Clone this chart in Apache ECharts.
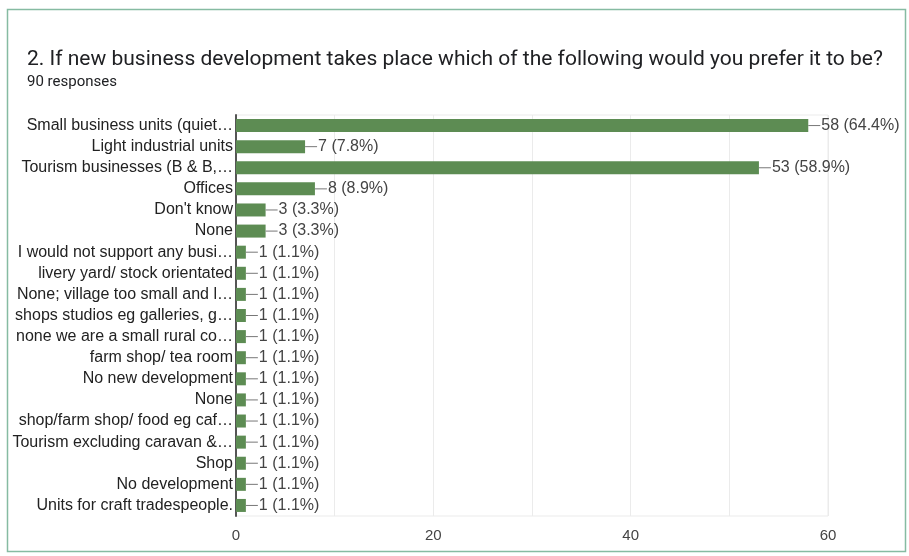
<!DOCTYPE html>
<html>
<head>
<meta charset="utf-8">
<script src="https://cdn.jsdelivr.net/npm/echarts@6/dist/echarts.min.js"></script>
<style>
  html, body { margin: 0; padding: 0; background: #fff; }
  #main { width: 909px; height: 556px; }
</style>
</head>
<body>
<div id="main"></div>
<script>
// answer labels, top to bottom
var categories = [
  "Small business units (quiet…",
  "Light industrial units",
  "Tourism businesses (B & B,…",
  "Offices",
  "Don't know",
  "None",
  "I would not support any busi…",
  "livery yard/ stock orientated",
  "None; village too small and l…",
  "shops studios eg galleries, g…",
  "none we are a small rural co…",
  "farm shop/ tea room",
  "No new development",
  "None",
  "shop/farm shop/ food eg caf…",
  "Tourism excluding caravan &…",
  "Shop",
  "No development",
  "Units for craft tradespeople."
];
var counts = [58, 7, 53, 8, 3, 3, 1, 1, 1, 1, 1, 1, 1, 1, 1, 1, 1, 1, 1];
var percents = ["64.4", "7.8", "58.9", "8.9", "3.3", "3.3", "1.1", "1.1", "1.1", "1.1",
  "1.1", "1.1", "1.1", "1.1", "1.1", "1.1", "1.1", "1.1", "1.1"];
var xTicks = [0, 20, 40, 60];

var myChart = echarts.init(document.getElementById("main"));

var option = {
  backgroundColor: "#fff",
  animation: false,
  title: {
    text: "2. If new business development takes place which of the following would you prefer it to be?",
    subtext: "90 responses",
    left: 22,
    top: 44,
    itemGap: 5,
    textStyle: { fontFamily: "Roboto", fontSize: 21, fontWeight: "normal", color: "#202124" },
    subtextStyle: { fontFamily: "Roboto", fontSize: 15, color: "#202124" }
  },
  graphic: [
    {
      type: "rect",
      shape: { x: 7.5, y: 9.5, width: 898, height: 542 },
      style: { fill: "none", stroke: "#86bba2", lineWidth: 1.5 },
      silent: true
    }
  ],
  grid: {
    left: 236,
    right: 81,
    top: 115,
    bottom: 40,
    show: true,
    borderColor: "#ebebeb",
    borderWidth: 1
  },
  xAxis: {
    type: "value",
    min: 0,
    max: 60,
    interval: 10,
    axisLine: { show: false },
    axisTick: { show: false },
    splitLine: { lineStyle: { color: "#ebebeb" } },
    axisLabel: {
      margin: 12,
      fontFamily: "Liberation Sans",
      fontSize: 15,
      color: "#444",
      formatter: function (v) {
        return xTicks.indexOf(v) >= 0 ? String(v) : "";
      }
    }
  },
  yAxis: {
    type: "category",
    inverse: true,
    data: categories,
    axisLine: { show: true, lineStyle: { color: "#555", width: 2 } },
    axisTick: { show: false },
    axisLabel: {
      interval: 0,
      margin: 3,
      fontFamily: "Liberation Sans",
      fontSize: 16,
      color: "#222"
    }
  },
  series: [
    {
      type: "bar",
      data: counts,
      barWidth: 13,
      itemStyle: { color: "#5d8c53" },
      label: {
        show: true,
        position: "right",
        distance: 0,
        formatter: function (p) {
          return "{l|}{t|" + p.value + " (" + percents[p.dataIndex] + "%)}";
        },
        rich: {
          l: { width: 12, height: 1, backgroundColor: "#777" },
          t: { fontFamily: "Liberation Sans", fontSize: 16, color: "#444", padding: [0, 0, 0, 1] }
        }
      }
    }
  ]
};

myChart.setOption(option);
</script>
</body>
</html>
